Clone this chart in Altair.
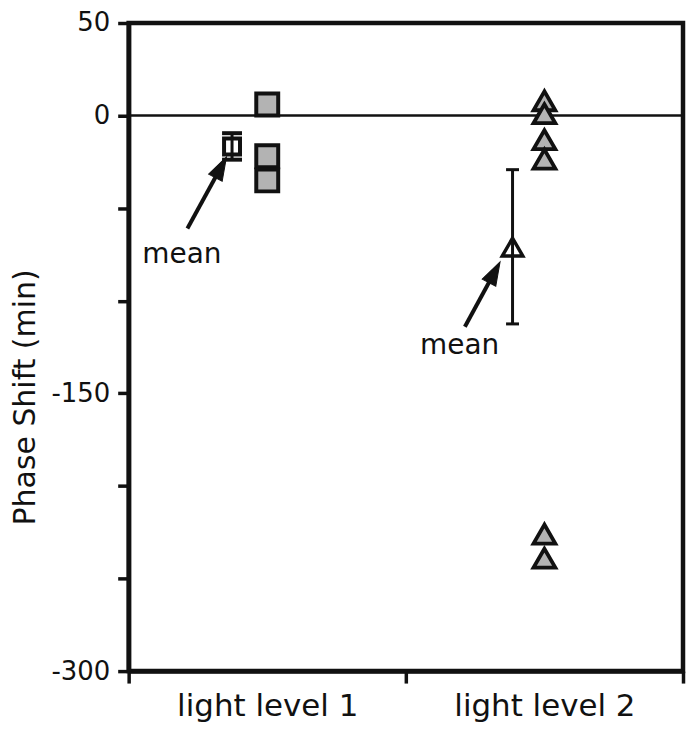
import altair as alt
import pandas as pd

# ---- data ----
categories = ["light level 1", "light level 2"]
level1_shifts = [6, -22, -35]                       # grey squares
level2_shifts = [8, 1, -13, -23.5, -226, -239]      # grey triangles
mean_shifts = [-16.7, -71]
mean_err_low = [-23.8, -112.5]
mean_err_high = [-9.5, -29.2]
mean_offsets = [-0.127, -0.115]
y_ticks = [-300, -250, -200, -150, -100, -50, 0, 50]
y_labeled = [50, 0, -150, -300]
annot_text = ["mean", "mean"]
text_x = [0.192, 1.194]
text_y = [-79.6, -129.0]
arrow_tail_x = [0.212, 1.213]
arrow_tail_y = [-61.0, -114.0]
arrow_head_x = [0.333, 1.320]
arrow_head_y = [-27.9, -84.6]
arrow_angle = [28, 28]
zero_line = [0]

FONT = "DejaVu Sans"
INK = "#111111"

# ---- tables ----
pts1 = pd.DataFrame({"x": [0.5] * len(level1_shifts), "y": level1_shifts})
pts2 = pd.DataFrame({"x": [1.5] * len(level2_shifts), "y": level2_shifts})
means = pd.DataFrame({
    "x": [i + 0.5 + o for i, o in enumerate(mean_offsets)],
    "y": mean_shifts, "lo": mean_err_low, "hi": mean_err_high,
    "kind": ["square", "triangle"],
})
ann = pd.DataFrame({"x": text_x, "y": text_y, "t": annot_text})
arr = pd.DataFrame({"x": arrow_tail_x, "y": arrow_tail_y,
                    "x2": arrow_head_x, "y2": arrow_head_y, "a": arrow_angle})
zero = pd.DataFrame({"y": zero_line})

x_axis = alt.Axis(
    values=[0, 0.5, 1, 1.5, 2],
    labelExpr="datum.value == 0.5 ? '" + categories[0] + "' : datum.value == 1.5 ? '" + categories[1] + "' : ''",
    tickOpacity={"condition": {"test": "datum.value == 0.5 || datum.value == 1.5", "value": 0}, "value": 1},
    title=None, grid=False, labelFlush=False, labelOverlap=False, labelLimit=400,
    tickSize=12, tickWidth=3.5, tickColor=INK,
    domainWidth=4.5, domainColor=INK,
    labelFont=FONT, labelFontSize=31, labelColor=INK, labelPadding=9,
)
y_axis = alt.Axis(
    values=y_ticks,
    labelExpr="indexof(" + str(y_labeled) + ", datum.value) >= 0 ? toString(datum.value) : ''",
    title="Phase Shift (min)", grid=False, labelLimit=200,
    tickSize=11, tickWidth=3.5, tickColor=INK,
    domainWidth=4.5, domainColor=INK,
    labelFont=FONT, labelFontSize=26, labelColor=INK, labelPadding=8,
    titleFont=FONT, titleFontSize=30, titleFontWeight="normal", titleColor=INK,
    titleX=-103, titleY=375, titleBaseline="middle", titleAlign="center",
)
xs = alt.Scale(domain=[0, 2], nice=False, zero=False)
ys = alt.Scale(domain=[-300, 50], nice=False, zero=False)


def X(f="x"):
    return alt.X(f + ":Q", scale=xs, axis=x_axis)


def Y(f="y"):
    return alt.Y(f + ":Q", scale=ys, axis=y_axis)


zero_rule = alt.Chart(zero).mark_rule(color=INK, strokeWidth=2.5).encode(y=Y())

squares = alt.Chart(pts1).mark_point(
    shape="square", filled=True, fill="#b3b3b3", stroke=INK, strokeWidth=4,
    size=484, opacity=1, strokeJoin="miter",
).encode(x=X(), y=Y())

triangles = alt.Chart(pts2).mark_point(
    shape="triangle-up", filled=True, fill="#b3b3b3", stroke=INK, strokeWidth=3.8,
    size=480, opacity=1, strokeJoin="miter",
).encode(x=X(), y=Y())

mean_sq = alt.Chart(means).transform_filter("datum.kind == 'square'").mark_point(
    shape="square", filled=True, fill="white", stroke=INK, strokeWidth=4,
    size=256, opacity=1, strokeJoin="miter",
).encode(x=X(), y=Y())

mean_tri = alt.Chart(means).transform_filter("datum.kind == 'triangle'").mark_point(
    shape="triangle-up", filled=True, fill="white", stroke=INK, strokeWidth=3.5,
    size=420, opacity=1, strokeJoin="miter",
).encode(x=X(), y=Y())

err_line = alt.Chart(means).mark_rule(color=INK, strokeWidth=3).encode(
    x=X(), y=Y("lo"), y2="hi:Q")

cap_sq_lo = alt.Chart(means).transform_filter("datum.kind == 'square'").mark_tick(
    orient="horizontal", color=INK, size=20, thickness=4, opacity=1).encode(x=X(), y=Y("lo"))
cap_sq_hi = alt.Chart(means).transform_filter("datum.kind == 'square'").mark_tick(
    orient="horizontal", color=INK, size=20, thickness=4, opacity=1).encode(x=X(), y=Y("hi"))
cap_tr_lo = alt.Chart(means).transform_filter("datum.kind == 'triangle'").mark_tick(
    orient="horizontal", color=INK, size=13, thickness=3, opacity=1).encode(x=X(), y=Y("lo"))
cap_tr_hi = alt.Chart(means).transform_filter("datum.kind == 'triangle'").mark_tick(
    orient="horizontal", color=INK, size=13, thickness=3, opacity=1).encode(x=X(), y=Y("hi"))

arrow_shaft = alt.Chart(arr).mark_rule(color=INK, strokeWidth=4).encode(
    x=X(), y=Y(), x2="x2:Q", y2="y2:Q")
arrow_head = alt.Chart(arr).mark_point(
    shape="M0,-1L0.65,1L-0.65,1Z", filled=True, fill=INK, stroke=INK, strokeWidth=1,
    size=560, opacity=1,
).encode(x=X("x2"), y=Y("y2"), angle=alt.Angle("a:Q", scale=None))

texts = alt.Chart(ann).mark_text(
    font=FONT, fontSize=28, color=INK, align="center", baseline="alphabetic",
).encode(x=X(), y=Y(), text="t:N")

chart = alt.layer(
    zero_rule, squares, triangles, mean_sq, mean_tri, err_line,
    cap_sq_lo, cap_sq_hi, cap_tr_lo, cap_tr_hi,
    arrow_shaft, arrow_head, texts,
).properties(
    width=556, height=650,
    autosize=alt.AutoSizeParams(type="none"),
    padding={"left": 121, "top": 14, "right": 3, "bottom": 54},
).configure_view(stroke=INK, strokeWidth=4.5)

chart.save("out.html", embed_options={"renderer": "svg", "actions": False})
